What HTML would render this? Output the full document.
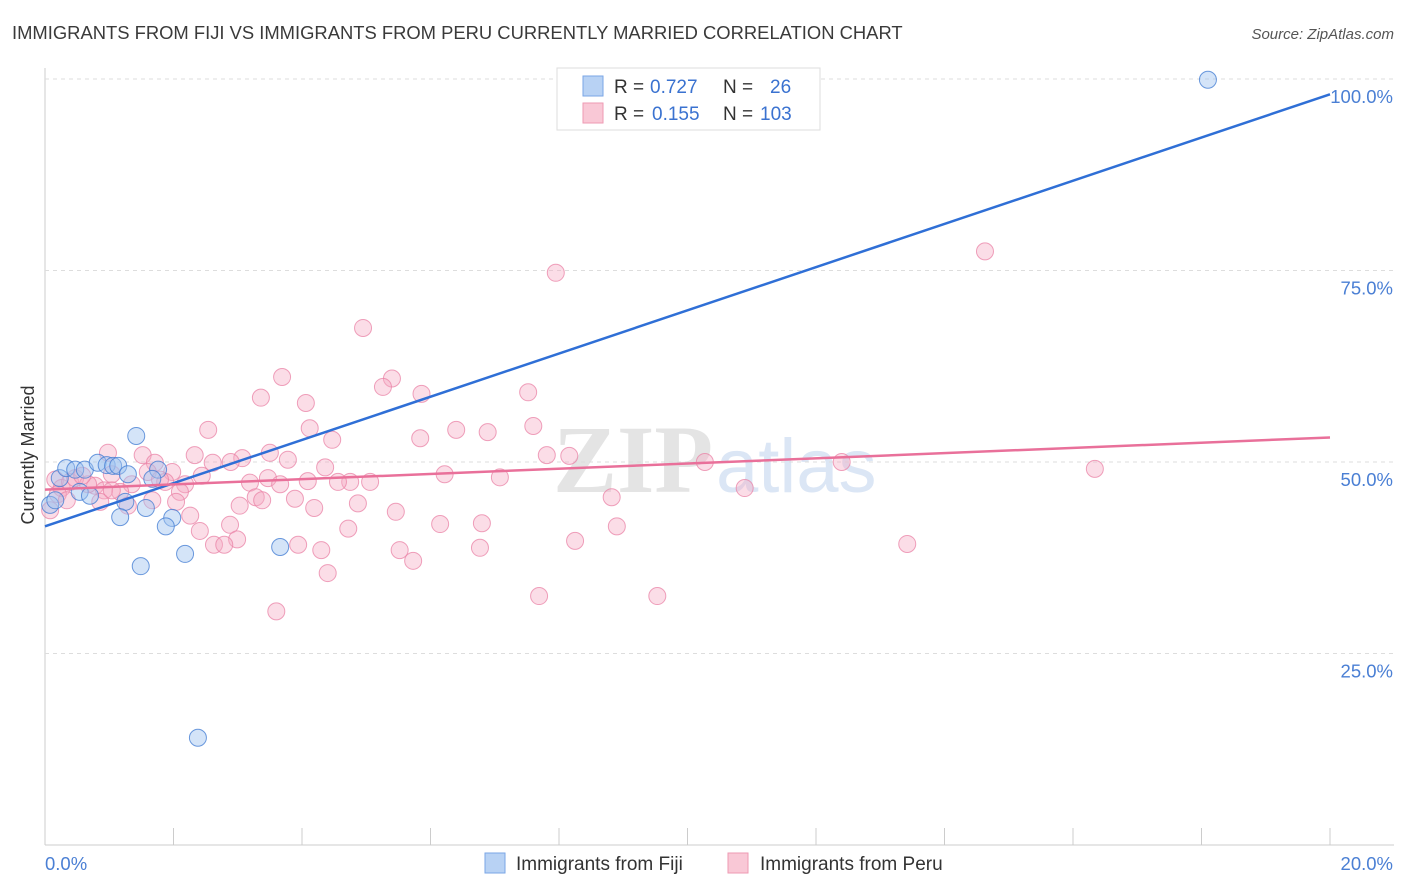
<!DOCTYPE html>
<html><head><meta charset="utf-8"><style>
body{margin:0;background:#fff;font-family:"Liberation Sans",sans-serif}
#wrap{position:relative;width:1406px;height:892px;overflow:hidden}
</style></head><body><div id="wrap">
<svg id="svg" width="1406" height="892" xmlns="http://www.w3.org/2000/svg">
<text x="12" y="39" font-size="18.4" fill="#3a3a3a">IMMIGRANTS FROM FIJI VS IMMIGRANTS FROM PERU CURRENTLY MARRIED CORRELATION CHART</text>
<text x="1394" y="39" font-size="15" fill="#555" text-anchor="end" font-style="italic">Source: ZipAtlas.com</text>
<text x="553" y="492" font-size="96" fill="#e4e4e4" font-family="Liberation Serif" font-weight="bold">ZIP</text>
<text x="716" y="492" font-size="76" fill="#dbe6f5">atlas</text>
<text transform="translate(34,455) rotate(-90)" font-size="18" fill="#333" text-anchor="middle">Currently Married</text>
<g id="grid"></g><g id="pts"></g><g id="lines"></g>
<g>
<rect x="557" y="68" width="263" height="62" fill="#fff" stroke="#ddd"/>
<rect x="583" y="76" width="20" height="20" fill="#b8d2f4" stroke="#7aa6e6"/>
<rect x="583" y="103" width="20" height="20" fill="#f9c8d6" stroke="#ee9ab3"/>
<text y="93" font-size="19" fill="#333"><tspan x="614">R =</tspan><tspan x="650" fill="#3a72d0">0.727</tspan><tspan x="723">N =</tspan><tspan x="770" fill="#3a72d0">26</tspan></text>
<text y="120" font-size="19" fill="#333"><tspan x="614">R =</tspan><tspan x="652" fill="#3a72d0">0.155</tspan><tspan x="723">N =</tspan><tspan x="760" fill="#3a72d0">103</tspan></text>
</g>
<g>
<rect x="485" y="853" width="20" height="20" fill="#b8d2f4" stroke="#7aa6e6"/>
<text x="516" y="870" font-size="19" fill="#333">Immigrants from Fiji</text>
<rect x="728" y="853" width="20" height="20" fill="#f9c8d6" stroke="#ee9ab3"/>
<text x="760" y="870" font-size="19" fill="#333">Immigrants from Peru</text>
</g>
</svg>
<script>
const yTicks=[25,50,75,100];
const yTickLabels=["25.0%","50.0%","75.0%","100.0%"];
const xTickLabels=["0.0%","20.0%"];
const fijiX=[18.10,1.42,0.23,0.33,0.47,0.62,0.82,0.96,1.06,1.14,1.29,1.76,1.67,0.54,0.70,1.25,1.17,1.57,1.98,1.88,2.18,1.49,3.66,2.38,0.08,0.16];
const fijiY=[99.9,53.4,47.9,49.2,49.0,49.0,49.9,49.6,49.5,49.5,48.4,49.0,47.8,46.1,45.6,44.8,42.8,44.0,42.7,41.6,38.0,36.4,38.9,14.0,44.4,45.0];
const peruX=[14.63,7.95,4.95,3.69,5.40,5.26,5.86,7.52,4.06,3.36,2.54,4.12,6.40,6.89,7.60,5.84,4.47,3.50,3.07,2.33,1.52,0.98,3.78,2.89,2.61,1.71,4.36,7.81,8.16,10.27,12.40,16.34,1.98,2.44,3.47,6.22,7.08,4.75,5.06,4.09,3.19,3.66,4.56,1.87,2.18,1.35,0.78,10.89,2.10,1.17,0.92,3.28,3.38,3.89,1.67,2.04,0.86,3.03,4.87,8.82,4.19,5.46,1.29,2.26,2.88,4.72,6.15,6.80,8.90,2.41,2.99,8.25,2.63,2.79,3.94,4.30,5.52,6.77,13.42,5.73,4.40,7.69,9.53,3.60,0.16,0.26,0.39,0.20,0.08,0.47,0.67,1.04,0.34,1.60,1.79,1.04,0.58];
const peruY=[77.5,74.7,67.5,61.1,60.9,59.8,58.9,59.1,57.7,58.4,54.2,54.4,54.2,53.9,54.7,53.1,52.9,51.2,50.5,50.9,50.9,51.2,50.3,50.0,49.9,49.9,49.3,50.9,50.8,50.0,50.0,49.1,48.7,48.2,47.9,48.4,48.0,47.4,47.4,47.5,47.3,47.1,47.4,47.4,47.1,47.1,46.9,46.6,46.1,46.1,46.3,45.4,45.0,45.2,45.0,44.8,44.8,44.3,44.6,45.4,44.0,43.5,44.3,43.0,41.8,41.3,41.9,42.0,41.6,41.0,39.9,39.7,39.2,39.2,39.2,38.5,38.5,38.8,39.3,37.1,35.5,32.5,32.5,30.5,47.7,46.6,47.4,45.8,43.7,47.9,47.1,48.4,45.0,48.7,47.7,46.3,48.2];
const fijiLine=[[0,41.6],[20,98.0]];
const peruLine=[[0,46.4],[20,53.2]];
const X=v=>45+v/20*1285, Y=v=>845-v/100*766;
const NS="http://www.w3.org/2000/svg";
function mk(t,a,p){const e=document.createElementNS(NS,t);for(const k in a)e.setAttribute(k,a[k]);p.appendChild(e);return e;}
const grid=document.getElementById('grid');
let ax=mk('line',{x1:45,y1:68,x2:45,y2:845,stroke:'#ccc'},grid);


let bx=mk('line',{x1:45,y1:845,x2:1394,y2:845,stroke:'#ccc'},grid);


for(let i=1;i<=10;i++){const x=X(i*2);const t=mk('line',{x1:x,y1:828,x2:x,y2:845,stroke:'#ccc'},grid);

}
yTicks.forEach((v,i)=>{const g=mk('line',{x1:45,y1:Y(v),x2:1394,y2:Y(v),stroke:'#ddd','stroke-dasharray':'4,4'},grid);


const t=mk('text',{x:1393,y:Y(v)+24,'font-size':18.5,fill:'#4a7fd4','text-anchor':'end'},grid);t.textContent=yTickLabels[i];

});
xTickLabels.forEach((s,i)=>{const t=mk('text',{x:i?1393:45,y:870,'font-size':18.5,fill:'#4a7fd4','text-anchor':i?'end':'start'},grid);t.textContent=s;

});
const pts=document.getElementById('pts');
peruX.forEach((v,i)=>{const c=mk('circle',{cx:X(v),cy:Y(peruY[i]),r:8.5,fill:'rgba(246,170,195,0.4)',stroke:'rgba(234,130,165,0.75)','stroke-width':1},pts);

});
fijiX.forEach((v,i)=>{const c=mk('circle',{cx:X(v),cy:Y(fijiY[i]),r:8.5,fill:'rgba(160,196,240,0.45)',stroke:'rgba(60,120,210,0.75)','stroke-width':1},pts);

});
const ln=document.getElementById('lines');
let l1=mk('line',{x1:X(fijiLine[0][0]),y1:Y(fijiLine[0][1]),x2:X(fijiLine[1][0]),y2:Y(fijiLine[1][1]),stroke:'#2f6fd6','stroke-width':2.5},ln);


let l2=mk('line',{x1:X(peruLine[0][0]),y1:Y(peruLine[0][1]),x2:X(peruLine[1][0]),y2:Y(peruLine[1][1]),stroke:'#e9709a','stroke-width':2.5},ln);


</script></div></body></html>
